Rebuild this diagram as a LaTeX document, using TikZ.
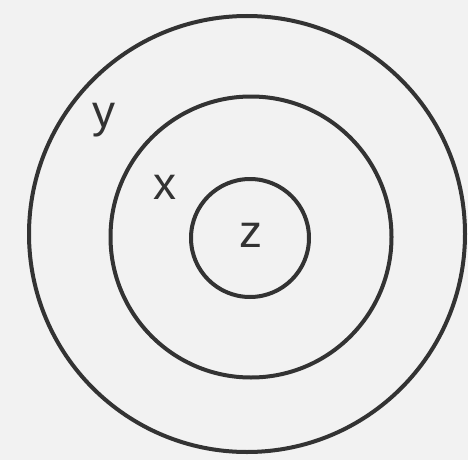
\documentclass[tikz,border=0pt]{standalone}
\usepackage{fontspec}
\setmainfont{Liberation Sans}
\usepackage{tikz}
\usetikzlibrary{positioning}

\definecolor{ringgray}{HTML}{333333}
\definecolor{papergray}{HTML}{F2F2F2}

\begin{document}
\begin{tikzpicture}[
        x=1pt, y=-1pt,
        ring/.style={draw=ringgray, circle, line width=4pt, inner sep=0pt},
        setname/.style={font=\fontsize{46}{46}\selectfont, text=ringgray, inner sep=0pt}
    ]

    % ================= Background =================
    \fill[papergray] (0,0) rectangle (468,460);
    \useasboundingbox (0,0) rectangle (468,460);

    % ================= Rings =================
    \node[ring, minimum size=436pt] (ring_y) at (247, 234) {};
    \node[ring, minimum size=281pt] (ring_x) at (251, 237) {};
    \node[ring, minimum size=118pt] (ring_z) at (250, 238) {};

    % ================= Labels =================
    \node[setname] (lab_y) at (104, 120) {y};
    \node[setname] (lab_x) at (165, 187) {x};
    \node[setname] (lab_z) at (251, 235) {z};

\end{tikzpicture}
\end{document}
